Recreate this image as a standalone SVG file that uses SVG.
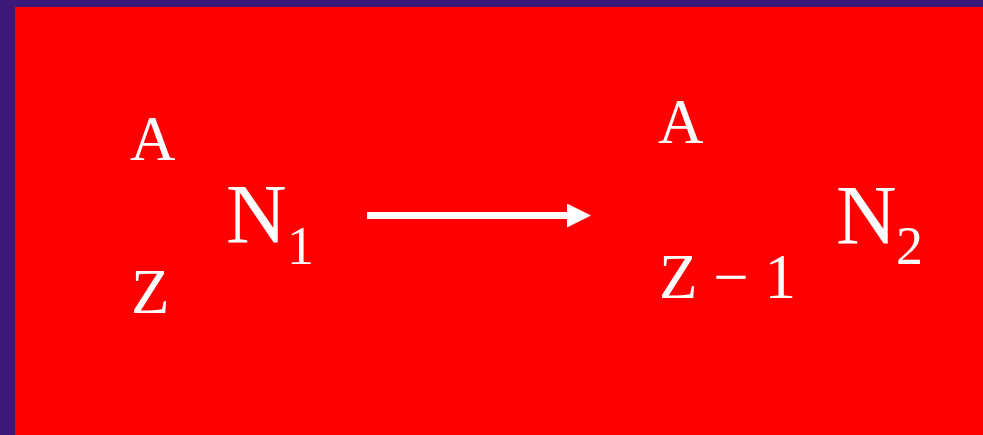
<svg xmlns="http://www.w3.org/2000/svg" width="983" height="435" viewBox="0 0 983 435">
  <style>
    .t { font-family: "Liberation Serif", "Times New Roman", serif; fill: #ffffff; }
    .big { font-size: 84px; }
    .sm { font-size: 63px; }
    .sub { font-size: 54px; }
  </style>
  <defs>
    <marker id="ah" markerUnits="userSpaceOnUse" markerWidth="26" markerHeight="26" refX="0" refY="12" orient="auto">
      <path d="M0,0 L24,12 L0,24 Z" fill="#ffffff"/>
    </marker>
  </defs>
  <rect x="0" y="0" width="983" height="435" fill="#3c1878"/>
  <rect x="15" y="7" width="968" height="428" fill="#ff0000"/>
  <g id="nucleus1">
    <text class="t sm" x="130" y="160">A</text>
    <text class="t sm" x="131" y="313">Z</text>
    <text class="t big" x="226" y="243">N</text>
    <text class="t sub" x="287" y="264">1</text>
  </g>
  <g id="connectors">
    <line x1="367" y1="215.5" x2="567" y2="215.5" stroke="#ffffff" stroke-width="7" marker-end="url(#ah)"/>
  </g>
  <g id="nucleus2">
    <text class="t sm" x="658" y="143">A</text>
    <text class="t sm" x="659" y="298">Z − 1</text>
    <text class="t big" x="836" y="244">N</text>
    <text class="t sub" x="896" y="264">2</text>
  </g>
</svg>
